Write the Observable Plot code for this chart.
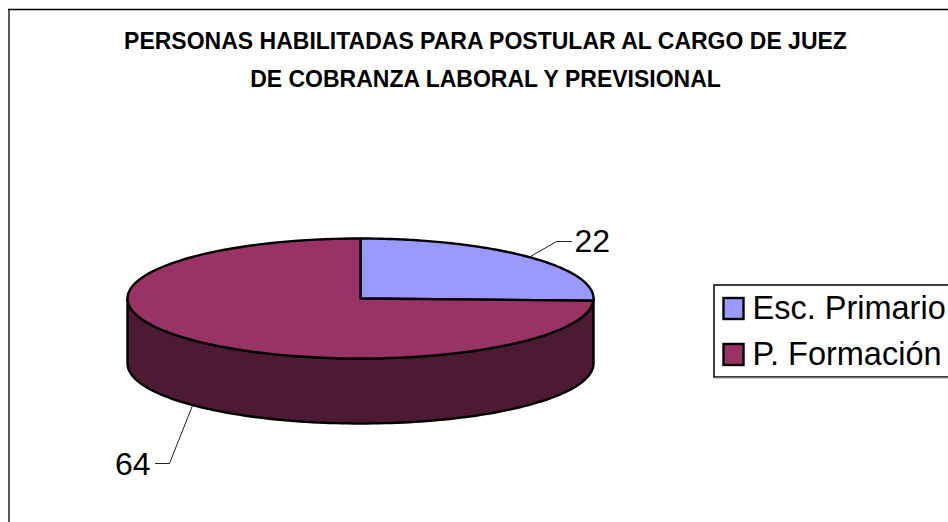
<!DOCTYPE html>
<html><head><meta charset="utf-8">
<style>html,body{margin:0;padding:0;background:#fff;overflow:hidden}svg{display:block}</style>
<script src="https://cdn.jsdelivr.net/npm/d3@7"></script>
<script src="https://cdn.jsdelivr.net/npm/@observablehq/plot@0.6"></script>
</head><body>
<script>
const categories = ["Esc. Primario", "P. Formación"];
const values = [22, 64];
const topColors = ["#9999ff", "#993366"];
const sideColor = "#4d1a33";
const titleLines = ["PERSONAS HABILITADAS PARA POSTULAR AL CARGO DE JUEZ", "DE COBRANZA LABORAL Y PREVISIONAL"];
const cx = 360, cy = 298, rx = 233, ry = 60, depth = 65;
const font = "Liberation Sans, Arial, sans-serif";

const total = d3.sum(values);
// screen angle measured clockwise from 12 o'clock
const pt = (a, dy = 0) => ({x: cx + rx * Math.sin(a), y: cy - ry * Math.cos(a) + dy});
const arc = (a0, a1, dy = 0) => d3.range(0, 121).map(i => pt(a0 + (a1 - a0) * i / 120, dy));
let acc = 0;
const slices = values.map((v, i) => {
  const a0 = acc / total * 2 * Math.PI; acc += v;
  const a1 = acc / total * 2 * Math.PI;
  return {i, a0, a1, pts: [{x: cx, y: cy}, ...arc(a0, a1), {x: cx, y: cy}].map(p => ({...p, s: i}))};
});
// visible rim: the front half of the ellipse, extruded downwards
const rim = [...arc(Math.PI / 2, 3 * Math.PI / 2), ...arc(3 * Math.PI / 2, Math.PI / 2, depth)];
rim.push(rim[0]);
const sliceData = slices.flatMap(s => s.pts);

const leaders = [
  [{x: 530, y: 256}, {x: 556, y: 241}, {x: 571, y: 241}],
  [{x: 192, y: 405}, {x: 169, y: 463}, {x: 155, y: 463}]
].flatMap((l, s) => l.map(p => ({...p, s})));
const labels = [{x: 574, y: 241}, {x: 150, y: 464}];
const legendY = [308.5, 354.5];

const chart = Plot.plot({
  width: 948, height: 522,
  margin: 0,
  x: {domain: [0, 948], range: [0, 948], axis: null},
  y: {domain: [0, 522], range: [0, 522], axis: null},
  style: {background: "#fff", fontFamily: font},
  marks: [
    // chart frame
    Plot.ruleX([8.5], {y1: 9, y2: 522, stroke: "#000", strokeWidth: 1.3}),
    Plot.ruleY([9], {x1: 8, x2: 948, stroke: "#000", strokeWidth: 1.3}),
    // title
    Plot.text(titleLines, {x: 485, y: (d, i) => [41, 79][i], text: d => d, fontSize: 23, fontWeight: "bold", fill: "#000", textAnchor: "middle", lineAnchor: "middle"}),
    // pie rim
    Plot.line(rim, {x: "x", y: "y", fill: sideColor, stroke: "#000", strokeWidth: 2.4, curve: "linear"}),
    // pie top
    Plot.line(sliceData, {x: "x", y: "y", z: "s", fill: d => topColors[d.s], stroke: "#000", strokeWidth: 2.4, curve: "linear"}),
    // leaders and value labels
    Plot.line(leaders, {x: "x", y: "y", z: "s", stroke: "#222", strokeWidth: 1, curve: "linear"}),
    Plot.text(values, {x: (d, i) => labels[i].x, y: (d, i) => labels[i].y, text: d => String(d), fontSize: 32, fill: "#000", textAnchor: "start", filter: (d, i) => i === 0, lineAnchor: "middle"}),
    Plot.text(values, {x: (d, i) => labels[i].x, y: (d, i) => labels[i].y, text: d => String(d), fontSize: 32, fill: "#000", textAnchor: "end", filter: (d, i) => i === 1, lineAnchor: "middle"}),
    // legend
    Plot.rect([0], {x1: 714, x2: 960, y1: 285, y2: 377, fill: "#fff", stroke: "#000", strokeWidth: 1.5, inset: 0}),
    Plot.ruleY([377.5], {x1: 715, x2: 948, stroke: "#999", strokeWidth: 1}),
    Plot.rect(categories, {x1: 723.5, x2: 743.5, y1: (d, i) => legendY[i] - 10.5, y2: (d, i) => legendY[i] + 10.5, fill: (d, i) => topColors[i], stroke: "#000", strokeWidth: 2.4, inset: 0}),
    Plot.text(categories, {x: 752, y: (d, i) => legendY[i], text: d => d, fontSize: 32.5, fill: "#000", textAnchor: "start", lineAnchor: "middle"})
  ]
});
document.body.appendChild(chart);
</script>
</body></html>
